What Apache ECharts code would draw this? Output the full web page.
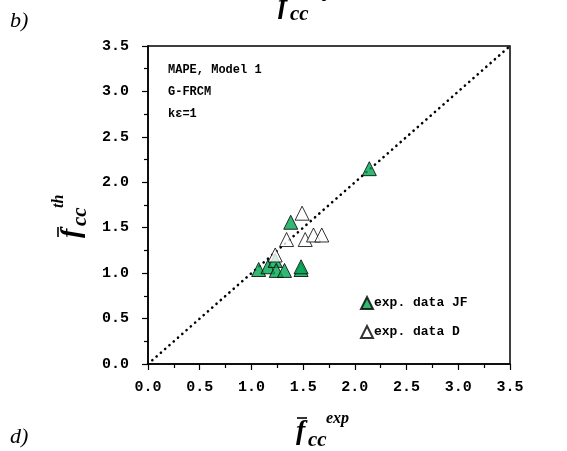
<!DOCTYPE html>
<html>
<head>
<meta charset="utf-8">
<script src="https://cdn.jsdelivr.net/npm/echarts@6/dist/echarts.min.js"></script>
<style>html,body{margin:0;padding:0;background:#fff;}#c{width:567px;height:451px;}</style>
</head>
<body>
<div id="c"></div>
<script>
// Data
const seriesNames = ['exp. data JF', 'exp. data D'];
const jfX = [1.07, 1.16, 1.23, 1.24, 1.32, 1.48, 1.48, 1.38, 2.14];
const jfY = [1.04, 1.07, 1.14, 1.03, 1.03, 1.04, 1.07, 1.56, 2.15];
const dX = [1.23, 1.34, 1.52, 1.49, 1.60, 1.68];
const dY = [1.20, 1.37, 1.37, 1.66, 1.42, 1.42];
const lineX = [0, 3.5];
const lineY = [0, 3.5];
const annotationLines = ['MAPE, Model 1', 'G-FRCM', 'k\u03b5=1'];

const zip = (a, b) => a.map((v, i) => [v, b[i]]);
const mono = '"Liberation Mono", "Courier New", monospace';
const serif = '"Liberation Serif", "Times New Roman", serif';

function fLabel(sup) {
  return [
    {type: 'line', shape: {x1: 1, y1: -14, x2: 11, y2: -14}, style: {stroke: '#000', lineWidth: 1.6}},
    {type: 'text', x: 0, y: 0, style: {text: 'f', font: 'italic bold 28px ' + serif, fill: '#000', verticalAlign: 'middle', align: 'left'}},
    {type: 'text', x: 12, y: 9, style: {text: 'cc', font: 'italic bold 21px ' + serif, fill: '#000', verticalAlign: 'middle', align: 'left'}},
    {type: 'text', x: 30, y: -13, style: {text: sup, font: 'italic bold 16px ' + serif, fill: '#000', verticalAlign: 'middle', align: 'left'}}
  ];
}

const chart = echarts.init(document.getElementById('c'), null, {renderer: 'canvas'});
const axisCommon = {
  min: 0, max: 3.5, interval: 0.5,
  axisLine: {show: true, lineStyle: {color: '#000', width: 1.5}},
  axisTick: {show: true, inside: false, length: 6, lineStyle: {color: '#000', width: 1.2}},
  minorTick: {show: true, splitNumber: 2, length: 4, lineStyle: {color: '#000', width: 1.2}},
  splitLine: {show: false},
  axisLabel: {color: '#000', fontFamily: mono, fontWeight: 'bold', fontSize: 15, formatter: v => v.toFixed(1)}
};

chart.setOption({
  animation: false,
  backgroundColor: '#fff',
  grid: {left: 148, right: 57, top: 46, bottom: 87, show: true, borderColor: '#000', borderWidth: 1.5, backgroundColor: 'transparent'},
  xAxis: Object.assign({}, axisCommon, {type: 'value', axisLabel: Object.assign({}, axisCommon.axisLabel, {margin: 16})}),
  yAxis: Object.assign({}, axisCommon, {type: 'value', axisLabel: Object.assign({}, axisCommon.axisLabel, {margin: 19})}),
  legend: {
    data: seriesNames,
    orient: 'vertical',
    left: 355, top: 291,
    itemWidth: 12, itemHeight: 12, itemGap: 15,
    icon: 'triangle',
    textStyle: {fontFamily: mono, fontWeight: 'bold', fontSize: 13, color: '#000', padding: [0, 0, 0, -4]}
  },
  series: [
    {
      type: 'line', data: zip(lineX, lineY), symbol: 'none', silent: true, z: 1,
      lineStyle: {color: '#000', width: 2.6, type: [0.1, 5.6], cap: 'round'}
    },
    {
      name: seriesNames[0], type: 'scatter', data: zip(jfX, jfY), symbol: 'triangle', symbolSize: 14, z: 3,
      itemStyle: {color: '#00a651', borderColor: '#000', borderWidth: 1}
    },
    {
      name: seriesNames[1], type: 'scatter', data: zip(dX, dY), symbol: 'triangle', symbolSize: 14, z: 4,
      itemStyle: {color: '#fff', borderColor: '#000', borderWidth: 1}
    }
  ],
  graphic: [
    {type: 'text', left: 10, top: 10, style: {text: 'b)', font: 'italic 22px ' + serif, fill: '#000'}},
    {type: 'text', left: 10, top: 426, style: {text: 'd)', font: 'italic 22px ' + serif, fill: '#000'}},
    {type: 'group', x: 278, y: 6, children: fLabel('exp')},
    {type: 'group', x: 296, y: 432, children: fLabel('exp')},
    {type: 'group', x: 72, y: 238, rotation: Math.PI / 2, children: fLabel('th')},
    {type: 'text', left: 168, top: 59, style: {text: annotationLines.join('\n'), font: 'bold 12px ' + mono, lineHeight: 22, fill: '#000'}}
  ]
});
</script>
</body>
</html>
